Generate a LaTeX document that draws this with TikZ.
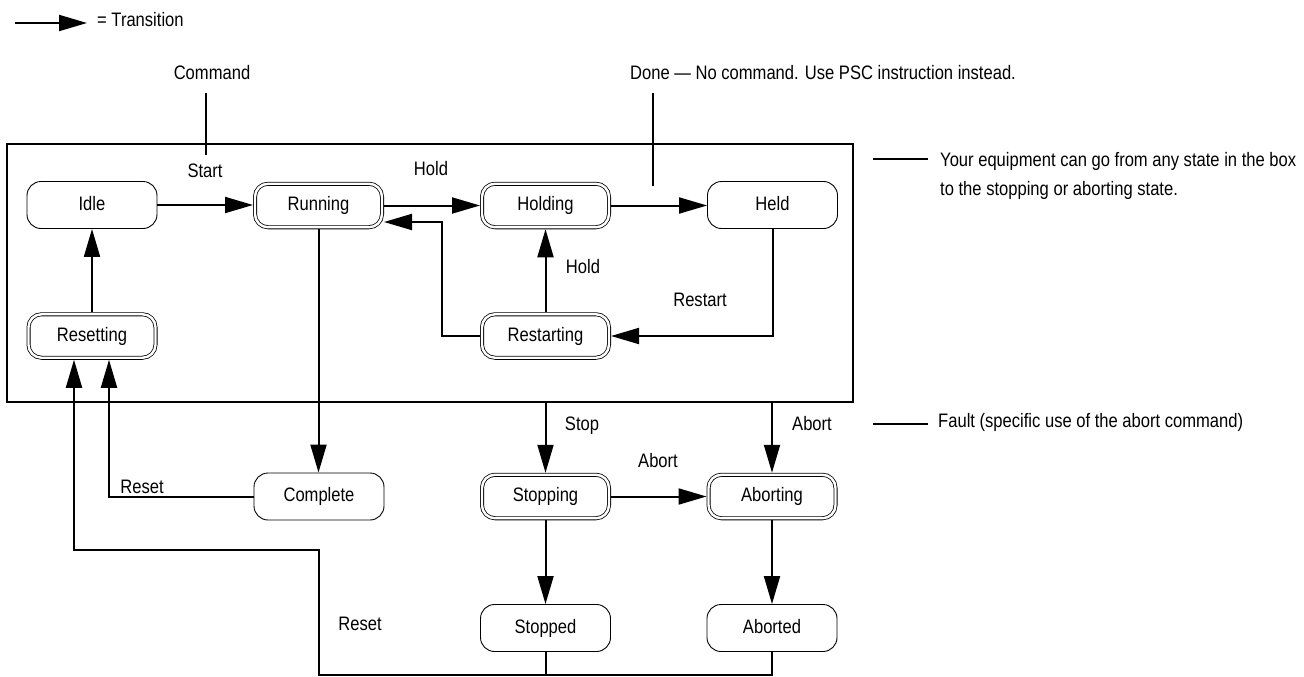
\documentclass[tikz,border=0pt]{standalone}
\usepackage{fontspec}
\setmainfont{Liberation Sans}[FakeStretch=0.85]
\usetikzlibrary{arrows.meta}
\begin{document}
\begin{tikzpicture}[x=1pt,y=-1pt,
  every node/.style={font=\fontsize{19.5}{22}\selectfont, inner sep=0pt, text height=14pt, text depth=4pt},
  state/.style={draw, line width=0.9pt, rounded corners=14pt, minimum width=130pt, minimum height=47pt},
  dstate/.style={draw, line width=0.8pt, double=white, double distance=2.4pt, rounded corners=13pt, minimum width=127pt, minimum height=43.5pt, outer sep=2pt},
  conn/.style={line width=2pt},
  tr/.style={conn, -{Triangle[length=28pt,width=16pt]}},
  frame/.style={draw, line width=2.4pt, minimum width=846pt, minimum height=258pt, text height=0pt, text depth=0pt}
]
\useasboundingbox (0,0) rectangle (1304,677);

% frame
\node[frame] (box) at (430,273) {};

% states
\node[state]  (idle)       at (92,205)     {Idle};
\node[dstate] (running)    at (318.5,205.5) {Running};
\node[dstate] (holding)    at (545.5,205.5) {Holding};
\node[state]  (held)       at (772.5,205)  {Held};
\node[dstate] (resetting)  at (92,336)     {Resetting};
\node[dstate] (restarting) at (545.5,336)  {Restarting};
\node[state]  (complete)   at (319,496.5)  {Complete};
\node[dstate] (stopping)   at (545.5,496.5) {Stopping};
\node[dstate] (aborting)   at (772,496.5)  {Aborting};
\node[state]  (stopped)    at (545.5,628)  {Stopped};
\node[state]  (aborted)    at (772,628)    {Aborted};

% transitions
\draw[tr] (idle.east) -- (idle.east -| running.west);
\draw[tr] (running.east) -- (holding.west);
\draw[tr] (holding.east) -- (holding.east -| held.west);
\draw[tr] (resetting.north) -- (idle.south);
\draw[tr] (restarting.north) -- (holding.south);
\coordinate (rr) at (442,222);
\draw[tr] (restarting.west) -| (rr) -- (rr -| running.east);
\draw[tr] (held.south) |- (restarting.east);
\draw[tr] (running.south) -- (running.south |- complete.north);
\draw[tr] (complete.west) -| ([xshift=17pt]resetting.south);
\coordinate (bj) at (319,675);
\coordinate (bk) at (319,550);
\draw[conn] (stopped.south) -- (stopped.south |- bj);
\draw[tr] (aborted.south) |- (bj) -- (bk) -| ([xshift=-18pt]resetting.south);
\draw[tr] (box.south -| stopping.north) -- (stopping.north);
\draw[tr] (box.south -| aborting.north) -- (aborting.north);
\draw[tr] (stopping.east) -- (aborting.west);
\draw[tr] (stopping.south) -- (stopped.north);
\draw[tr] (aborting.south) -- (aborted.north);

% labels
\node (command) at (212,75) {Command};
\coordinate (cmdtop) at (206,93);
\coordinate (cmdbot) at (206,155);
\draw[conn] (cmdtop) -- (cmdbot);
\node (start) at (205,172) {Start};
\node (hold1) at (431,170) {Hold};
\node[anchor=west] (done) at (630,75) {Done — No command. Use PSC instruction instead.};
\coordinate (donetop) at (653,93);
\coordinate (donebot) at (653,186);
\draw[conn] (donetop) -- (donebot);
\node (hold2) at (583,268) {Hold};
\node (restart) at (700,301) {Restart};

\coordinate (n1a) at (873,159);
\coordinate (n1b) at (928,159);
\draw[conn] (n1a) -- (n1b);
\node[anchor=west] (note1) at (940,161) {Your equipment can go from any state in the box};
\node[anchor=west] (note2) at (940,190) {to the stopping or aborting state.};

\node (stop) at (582,425) {Stop};
\node (abort1) at (812,425) {Abort};
\node (abort2) at (658,462) {Abort};
\node (reset1) at (142,488) {Reset};
\node (reset2) at (360,625) {Reset};

\coordinate (f1a) at (873,424);
\coordinate (f1b) at (928,424);
\draw[conn] (f1a) -- (f1b);
\node[anchor=west] (fault) at (938,422) {Fault (specific use of the abort command)};

% legend
\coordinate (l1) at (15,23);
\coordinate (l2) at (87,23);
\draw[tr] (l1) -- (l2);
\node[anchor=west] (legend) at (97,22) {= Transition};
\end{tikzpicture}
\end{document}
